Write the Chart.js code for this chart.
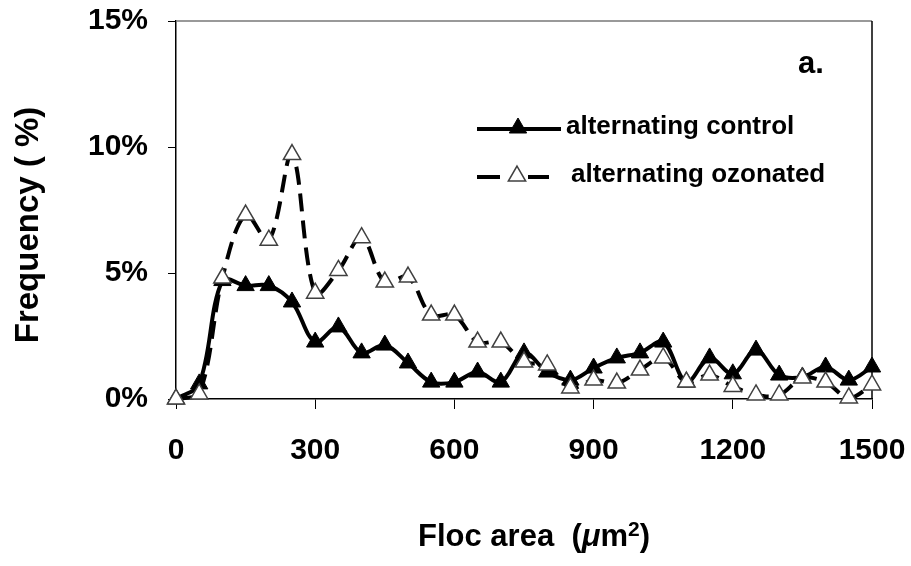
<!DOCTYPE html>
<html>
<head>
<meta charset="utf-8">
<script src="https://cdn.jsdelivr.net/npm/chart.js@4/dist/chart.umd.min.js"></script>
<style>
  html, body { margin: 0; padding: 0; background: #fff; }
  #wrap { width: 911px; height: 566px; }
</style>
</head>
<body>
<div id="wrap"><canvas id="c" width="911" height="566"></canvas></div>
<script>
// Floc area categories (µm²)
const flocArea = [0, 50, 100, 150, 200, 250, 300, 350, 400, 450, 500, 550, 600, 650, 700, 750,
                  800, 850, 900, 950, 1000, 1050, 1100, 1150, 1200, 1250, 1300, 1350, 1400, 1450, 1500];
// Frequency (%) values
const alternatingControl = [0, 0.6, 4.7, 4.5, 4.5, 3.85, 2.26, 2.86, 1.83, 2.14, 1.43, 0.67, 0.67, 1.07, 0.67, 1.83,
                            1.07, 0.75, 1.23, 1.63, 1.83, 2.26, 0.67, 1.63, 1.0, 1.94, 0.95, 0.87, 1.27, 0.75, 1.27];
const alternatingOzonated = [0, 0.2, 4.8, 7.3, 6.3, 9.7, 4.2, 5.1, 6.4, 4.64, 4.84, 3.33, 3.33, 2.26, 2.26, 1.47,
                             1.35, 0.44, 0.75, 0.63, 1.15, 1.63, 0.67, 0.95, 0.5, 0.16, 0.16, 0.83, 0.67, 0.04, 0.56];
const seriesNames = ['alternating control', 'alternating ozonated'];
const xTicks = [0, 300, 600, 900, 1200, 1500];
const yTicks = [0, 5, 10, 15];

const FONT = "'Liberation Sans', Arial, Helvetica, sans-serif";

function toXY(xs, ys) { return xs.map((x, i) => ({ x: x, y: ys[i] })); }

function tri(ctx, x, y, r, fill, stroke, lw) {
  ctx.beginPath();
  for (let k = 0; k < 3; k++) {
    const a = k * 2 * Math.PI / 3;
    const px = x + Math.sin(a) * r, py = y - Math.cos(a) * r;
    if (k === 0) ctx.moveTo(px, py); else ctx.lineTo(px, py);
  }
  ctx.closePath();
  ctx.fillStyle = fill; ctx.fill();
  ctx.lineWidth = lw; ctx.strokeStyle = stroke; ctx.stroke();
}

const decor = {
  id: 'decor',
  beforeDatasetsDraw(chart) {
    const { ctx, chartArea: a } = chart;
    ctx.save();
    ctx.lineWidth = 1.5;
    ctx.strokeStyle = '#777';
    ctx.beginPath(); ctx.moveTo(a.left, a.top); ctx.lineTo(a.right, a.top); ctx.stroke();
    ctx.strokeStyle = '#000';
    ctx.beginPath(); ctx.moveTo(a.right, a.top); ctx.lineTo(a.right, a.bottom); ctx.stroke();
    ctx.restore();
  },
  afterDraw(chart) {
    const ctx = chart.ctx;
    ctx.save();
    ctx.fillStyle = '#000';
    // Y title
    ctx.save();
    ctx.translate(38, 225);
    ctx.rotate(-Math.PI / 2);
    ctx.font = 'bold 33px ' + FONT;
    ctx.textAlign = 'center';
    ctx.textBaseline = 'alphabetic';
    ctx.fillText('Frequency ( %)', 0, 0);
    ctx.restore();
    // X title with italic mu and superscript
    const segs = [
      { t: 'Floc area  (', f: 'bold 31px ' + FONT, dy: 0 },
      { t: 'μ', f: 'italic bold 31px ' + FONT, dy: 0 },
      { t: 'm', f: 'bold 31px ' + FONT, dy: 0 },
      { t: '2', f: 'bold 21px ' + FONT, dy: -10 },
      { t: ')', f: 'bold 31px ' + FONT, dy: 0 }
    ];
    let total = 0;
    segs.forEach(s => { ctx.font = s.f; s.w = ctx.measureText(s.t).width; total += s.w; });
    let x = 534 - total / 2;
    ctx.textAlign = 'left';
    ctx.textBaseline = 'alphabetic';
    segs.forEach(s => { ctx.font = s.f; ctx.fillText(s.t, x, 546 + s.dy); x += s.w; });
    // panel label
    ctx.font = 'bold 31px ' + FONT;
    ctx.fillText('a.', 798, 73);
    // legend
    const rows = [129, 177];
    ctx.lineWidth = 4;
    ctx.strokeStyle = '#000';
    ctx.beginPath(); ctx.moveTo(477, rows[0]); ctx.lineTo(561, rows[0]); ctx.stroke();
    tri(ctx, 518, rows[0] - 1, 10, '#000', '#000', 1);
    ctx.lineWidth = 4;
    ctx.beginPath(); ctx.moveTo(477, rows[1]); ctx.lineTo(500, rows[1]); ctx.stroke();
    ctx.beginPath(); ctx.moveTo(528, rows[1]); ctx.lineTo(549, rows[1]); ctx.stroke();
    tri(ctx, 517, rows[1] - 1, 10, '#fff', '#404040', 1.5);
    ctx.fillStyle = '#000';
    ctx.font = 'bold 26px ' + FONT;
    ctx.textBaseline = 'middle';
    ctx.fillText(seriesNames[0], 566, rows[0] - 2);
    ctx.fillText(seriesNames[1], 571, rows[1] - 2);
    ctx.restore();
  }
};

new Chart(document.getElementById('c'), {
  type: 'line',
  data: {
    datasets: [
      {
        label: seriesNames[0],
        data: toXY(flocArea, alternatingControl),
        borderColor: '#000',
        borderWidth: 4,
        tension: 0.35,
        pointStyle: 'triangle',
        pointRadius: 10,
        pointBackgroundColor: '#000',
        pointBorderColor: '#000',
        pointBorderWidth: 1,
        clip: false,
        order: 2
      },
      {
        label: seriesNames[1],
        data: toXY(flocArea, alternatingOzonated),
        borderColor: '#000',
        borderWidth: 4,
        borderDash: [18, 9],
        tension: 0.35,
        pointStyle: 'triangle',
        pointRadius: 10,
        pointBackgroundColor: '#fff',
        pointBorderColor: '#404040',
        pointBorderWidth: 1.5,
        clip: false,
        order: 1
      }
    ]
  },
  options: {
    responsive: false,
    animation: false,
    layout: { padding: { top: 21, right: 39, left: 0, bottom: 0 } },
    plugins: { legend: { display: false }, tooltip: { enabled: false } },
    scales: {
      x: {
        type: 'linear',
        min: 0, max: 1500,
        afterBuildTicks(scale) { scale.ticks = xTicks.map(v => ({ value: v })); },
        afterFit(scale) { scale.height = 167; scale.paddingLeft = 0; scale.paddingRight = 0; },
        ticks: {
          color: '#000',
          font: { family: FONT, size: 30, weight: 'bold' },
          padding: 24,
          maxRotation: 0,
          autoSkip: false,
          callback: v => String(v)
        },
        grid: { drawOnChartArea: false, drawTicks: true, tickLength: 10, color: '#000', lineWidth: 1 },
        border: { display: true, color: '#000', width: 1.5 }
      },
      y: {
        min: 0, max: 15,
        afterBuildTicks(scale) { scale.ticks = yTicks.map(v => ({ value: v })); },
        afterFit(scale) { scale.width = 176; scale.paddingTop = 0; scale.paddingBottom = 0; },
        ticks: {
          color: '#000',
          font: { family: FONT, size: 30, weight: 'bold' },
          padding: 20,
          callback: v => v + '%'
        },
        grid: { drawOnChartArea: false, drawTicks: true, tickLength: 8, color: '#000', lineWidth: 1 },
        border: { display: true, color: '#000', width: 1.5 }
      }
    }
  },
  plugins: [decor]
});
</script>
</body>
</html>
